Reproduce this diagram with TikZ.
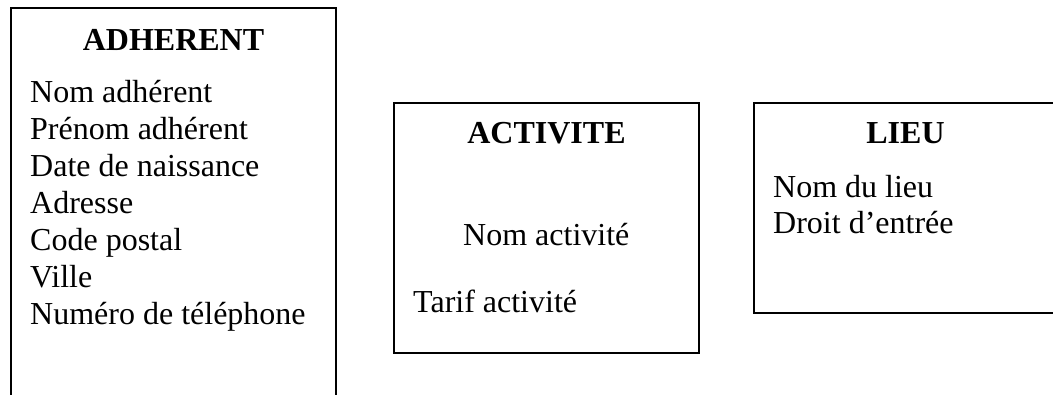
\documentclass[tikz,border=0pt]{standalone}
\usepackage{fontspec}
\setmainfont{Liberation Serif}
\begin{document}
\begin{tikzpicture}[x=1pt,y=-1pt,
  box/.style={draw=black,line width=1.6pt},
  txt/.style={inner sep=0pt,anchor=base west,font=\fontsize{32}{37}\selectfont},
  ttl/.style={inner sep=0pt,anchor=base,font=\fontsize{32}{37}\selectfont\bfseries}]
\useasboundingbox (0,0) rectangle (1053,394);
\clip (0,0) rectangle (1053,394);
% boxes
\draw[box] (11,8) rectangle (336,420);
\draw[box] (394,103) rectangle (699,353);
\draw[box] (754,103) rectangle (1060,313);
% ADHERENT
\node[ttl] (tA) at (173.5,50) {ADHERENT};
\node[txt] (a1) at (30,102) {Nom adhérent};
\node[txt] (a2) at (30,139) {Prénom adhérent};
\node[txt] (a3) at (30,176) {Date de naissance};
\node[txt] (a4) at (30,213) {Adresse};
\node[txt] (a5) at (30,250) {Code postal};
\node[txt] (a6) at (30,287) {Ville};
\node[txt] (a7) at (30,324) {Numéro de téléphone};
% ACTIVITE
\node[ttl] (tB) at (546.5,143) {ACTIVITE};
\node[txt] (b1) at (463,245) {Nom activité};
\node[txt] (b2) at (413,312) {Tarif activité};
% LIEU
\node[ttl] (tC) at (905.5,143) {LIEU};
\node[txt] (c1) at (773,197) {Nom du lieu};
\node[txt] (c2) at (773,233) {Droit d’entrée};
\end{tikzpicture}
\end{document}
